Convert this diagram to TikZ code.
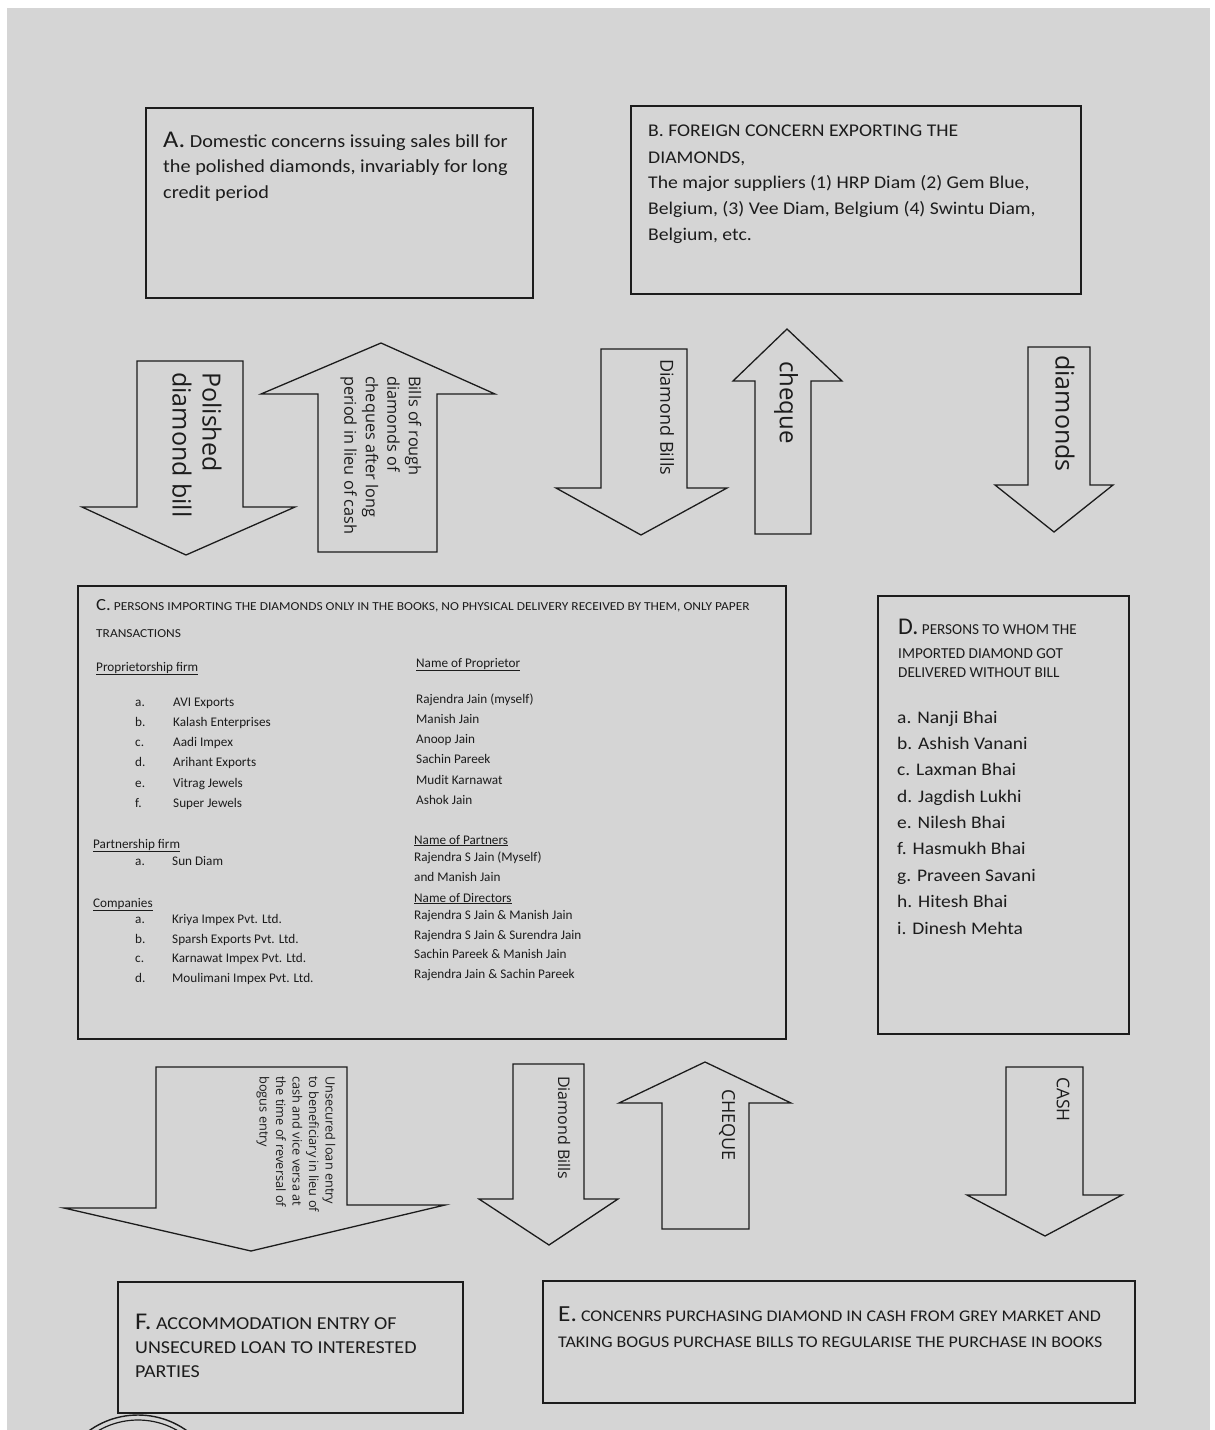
\documentclass[tikz,border=0pt]{standalone}
\usepackage{fontspec}
\setmainfont{Carlito}
\newfontfamily\widefont[FakeStretch=1.1]{Carlito}
\newfontfamily\arrfont{Open Sans}
\definecolor{paper}{RGB}{213,213,213}
\definecolor{ink}{RGB}{28,28,28}
\begin{document}
\begin{tikzpicture}[x=1pt,y=-1pt,
  boxline/.style={draw=ink, line width=1.5pt, rectangle, inner sep=0pt, anchor=north west},
  blockarrow/.style={draw=ink, line width=1.3pt, line join=miter},
  tl/.style={anchor=base west, inner sep=0pt, text=ink},
  vlab/.style={rotate=-90, anchor=west, inner sep=0pt, text=ink, align=left},
  fA/.style={font=\widefont\fontsize{18.4}{22}\selectfont},
  fB/.style={font=\widefont\fontsize{17.9}{21}\selectfont},
  fC/.style={font=\fontsize{13.2}{15}\selectfont},
  fCt/.style={font=\widefont\fontsize{12.2}{14}\selectfont},
  fDt/.style={font=\fontsize{15.2}{17}\selectfont},
  fD/.style={font=\widefont\fontsize{17.7}{21}\selectfont},
  fE/.style={font=\widefont\fontsize{16.3}{19}\selectfont},
  fF/.style={font=\widefont\fontsize{18.2}{20}\selectfont},
]
\useasboundingbox (0,0) rectangle (1215,1430);
\fill[white] (0,0) rectangle (1215,1430);
\fill[paper] (7,8) rectangle (1210,1430);

% ---------- boxes ----------
\node[boxline, minimum width=387pt, minimum height=190pt] (A) at (145,107) {};
\node[boxline, minimum width=450pt, minimum height=188pt] (B) at (630,105) {};
\node[boxline, minimum width=708pt, minimum height=453pt] (C) at (77,585) {};
\node[boxline, minimum width=251pt, minimum height=438pt] (D) at (877,595) {};
\node[boxline, minimum width=345pt, minimum height=131pt] (F) at (117,1281) {};
\node[boxline, minimum width=592pt, minimum height=122pt] (E) at (542,1280) {};

% ---------- box A ----------
\node[tl,fA] (a1) at (163,147) {{\fontsize{24}{24}\selectfont A.} Domestic concerns issuing sales bill for};
\node[tl,fA] (a2) at (163,172) {the polished diamonds, invariably for long};
\node[tl,fA] (a3) at (163,198) {credit period};

% ---------- box B ----------
\node[tl,fB] (b1) at (648,136) {B. FOREIGN CONCERN EXPORTING THE};
\node[tl,fB] (b2) at (648,163) {DIAMONDS,};
\node[tl,fB] (b3) at (648,188) {The major suppliers (1) HRP Diam (2) Gem Blue,};
\node[tl,fB] (b4) at (648,214) {Belgium, (3) Vee Diam, Belgium (4) Swintu Diam,};
\node[tl,fB] (b5) at (648,240) {Belgium, etc.};

% ---------- box C ----------
\node[tl,fCt] (c1) at (96,610) {{\fontsize{17}{17}\selectfont C.} PERSONS IMPORTING THE DIAMONDS ONLY IN THE BOOKS, NO PHYSICAL DELIVERY RECEIVED BY THEM, ONLY PAPER};
\node[tl,fCt] (c2) at (96,637) {TRANSACTIONS};
\node[tl,fC] (cph) at (96,671) {\underline{Proprietorship firm}};
\node[tl,fC] (cnp) at (416,667) {\underline{Name of Proprietor}};
\foreach \l/\n/\p/\y [count=\i] in {a./AVI Exports/Rajendra Jain (myself)/706,
   b./Kalash Enterprises/Manish Jain/726,
   c./Aadi Impex/Anoop Jain/746,
   d./Arihant Exports/Sachin Pareek/766,
   e./Vitrag Jewels/Mudit Karnawat/787,
   f./Super Jewels/Ashok Jain/807}{
  \node[tl,fC] (cpl\i) at (135,\y) {\l};
  \node[tl,fC] (cpn\i) at (173,\y) {\n};
  \node[tl,fC] (cpp\i) at (416,\y-3) {\p};
}
\node[tl,fC] (cpf) at (93,848) {\underline{Partnership firm}};
\node[tl,fC] (cpfl) at (135,865) {a.};
\node[tl,fC] (cpfn) at (172,865) {Sun Diam};
\node[tl,fC] (cnpt) at (414,844) {\underline{Name of Partners}};
\node[tl,fC] (cpt1) at (414,861) {Rajendra S Jain (Myself)};
\node[tl,fC] (cpt2) at (414,881) {and Manish Jain};
\node[tl,fC] (cnd) at (414,902) {\underline{Name of Directors}};
\node[tl,fC] (cco) at (93,907) {\underline{Companies}};
\foreach \l/\n/\p/\y [count=\i] in {a./Kriya Impex Pvt. Ltd./Rajendra S Jain \& Manish Jain/923,
   b./Sparsh Exports Pvt. Ltd./Rajendra S Jain \& Surendra Jain/943,
   c./Karnawat Impex Pvt. Ltd./Sachin Pareek \& Manish Jain/962,
   d./Moulimani Impex Pvt. Ltd./Rajendra Jain \& Sachin Pareek/982}{
  \node[tl,fC] (ccl\i) at (135,\y) {\l};
  \node[tl,fC] (ccn\i) at (172,\y) {\n};
  \node[tl,fC] (ccd\i) at (414,\y-4) {\p};
}

% ---------- box D ----------
\node[tl,fDt] (d1) at (898,634) {{\fontsize{24}{24}\selectfont D.} PERSONS TO WHOM THE};
\node[tl,fDt] (d2) at (898,658) {IMPORTED DIAMOND GOT};
\node[tl,fDt] (d3) at (898,677) {DELIVERED WITHOUT BILL};
\foreach \t/\y [count=\i] in {a. Nanji Bhai/723, b. Ashish Vanani/749, c. Laxman Bhai/775,
  d. Jagdish Lukhi/802, e. Nilesh Bhai/828, f. Hasmukh Bhai/854, g. Praveen Savani/881,
  h. Hitesh Bhai/907, i. Dinesh Mehta/934}{
  \node[tl,fD] (dn\i) at (897,\y) {\t};
}

% ---------- box F and E ----------
\node[tl,fF] (f1) at (135,1329) {{\fontsize{24}{24}\selectfont F.} ACCOMMODATION ENTRY OF};
\node[tl,fF] (f2) at (135,1353) {UNSECURED LOAN TO INTERESTED};
\node[tl,fF] (f3) at (135,1377) {PARTIES};
\node[tl,fE] (e1) at (558,1321) {{\fontsize{23}{23}\selectfont E.} CONCENRS PURCHASING DIAMOND IN CASH FROM GREY MARKET AND};
\node[tl,fE] (e2) at (558,1347) {TAKING BOGUS PURCHASE BILLS TO REGULARISE THE PURCHASE IN BOOKS};

% ---------- block arrows, row 1 ----------
\draw[blockarrow] (137,361) -- (243,361) -- (243,507) -- (295,507) -- (186,555) -- (82,507) -- (137,507) -- cycle;
\draw[blockarrow] (318,552) -- (437,552) -- (437,394) -- (495,394) -- (381,343) -- (261,394) -- (318,394) -- cycle;
\draw[blockarrow] (601,349) -- (687,349) -- (687,488) -- (727,488) -- (641,535) -- (556,488) -- (601,488) -- cycle;
\draw[blockarrow] (755,534) -- (811,534) -- (811,381) -- (842,381) -- (787,329) -- (733,381) -- (755,381) -- cycle;
\draw[blockarrow] (1028,347) -- (1090,347) -- (1090,485) -- (1113,485) -- (1054,532) -- (995,485) -- (1028,485) -- cycle;

\node[vlab, font=\arrfont\fontsize{25}{30}\selectfont] (l1) at (197,372) {Polished\\diamond bill};
\node[vlab, font=\arrfont\fontsize{16.3}{21.5}\selectfont] (l2) at (381,376) {Bills of rough\\diamonds of\\cheques after long\\period in lieu of cash};
\node[vlab, font=\arrfont\fontsize{18}{22}\selectfont] (l3) at (667,359) {Diamond Bills};
\node[vlab, font=\arrfont\fontsize{24}{28}\selectfont] (l4) at (786,361) {cheque};
\node[vlab, font=\arrfont\fontsize{25}{28}\selectfont] (l5) at (1065,355) {diamonds};

% ---------- block arrows, row 2 ----------
\draw[blockarrow] (156,1067) -- (347,1067) -- (347,1205) -- (445,1205) -- (251,1251) -- (64,1208) -- (156,1208) -- cycle;
\draw[blockarrow] (513,1064) -- (584,1064) -- (584,1199) -- (618,1199) -- (549,1245) -- (479,1199) -- (513,1199) -- cycle;
\draw[blockarrow] (662,1229) -- (749,1229) -- (749,1103) -- (791,1103) -- (705,1062) -- (619,1103) -- (662,1103) -- cycle;
\draw[blockarrow] (1006,1067) -- (1083,1067) -- (1083,1195) -- (1122,1195) -- (1045,1236) -- (967,1195) -- (1006,1195) -- cycle;

\node[vlab, font=\arrfont\fontsize{12.8}{16.5}\selectfont] (l6) at (296,1076) {Unsecured loan entry\\to beneficiary in lieu of\\cash and vice versa at\\the time of reversal of\\bogus entry};
\node[vlab, font=\arrfont\fontsize{16}{20}\selectfont] (l7) at (564,1076) {Diamond Bills};
\node[vlab, font=\arrfont\fontsize{18}{22}\selectfont] (l8) at (727,1089) {CHEQUE};
\node[vlab, font=\arrfont\fontsize{17.5}{22}\selectfont] (l9) at (1063,1077) {CASH};

% ---------- stamp fragment ----------
\begin{scope}
  \clip (7,8) rectangle (1210,1430);
  \draw[ink, line width=1.4pt] (138,1499) circle (84);
  \draw[ink, line width=1.2pt] (138,1499) circle (79);
\end{scope}
\end{tikzpicture}
\end{document}
